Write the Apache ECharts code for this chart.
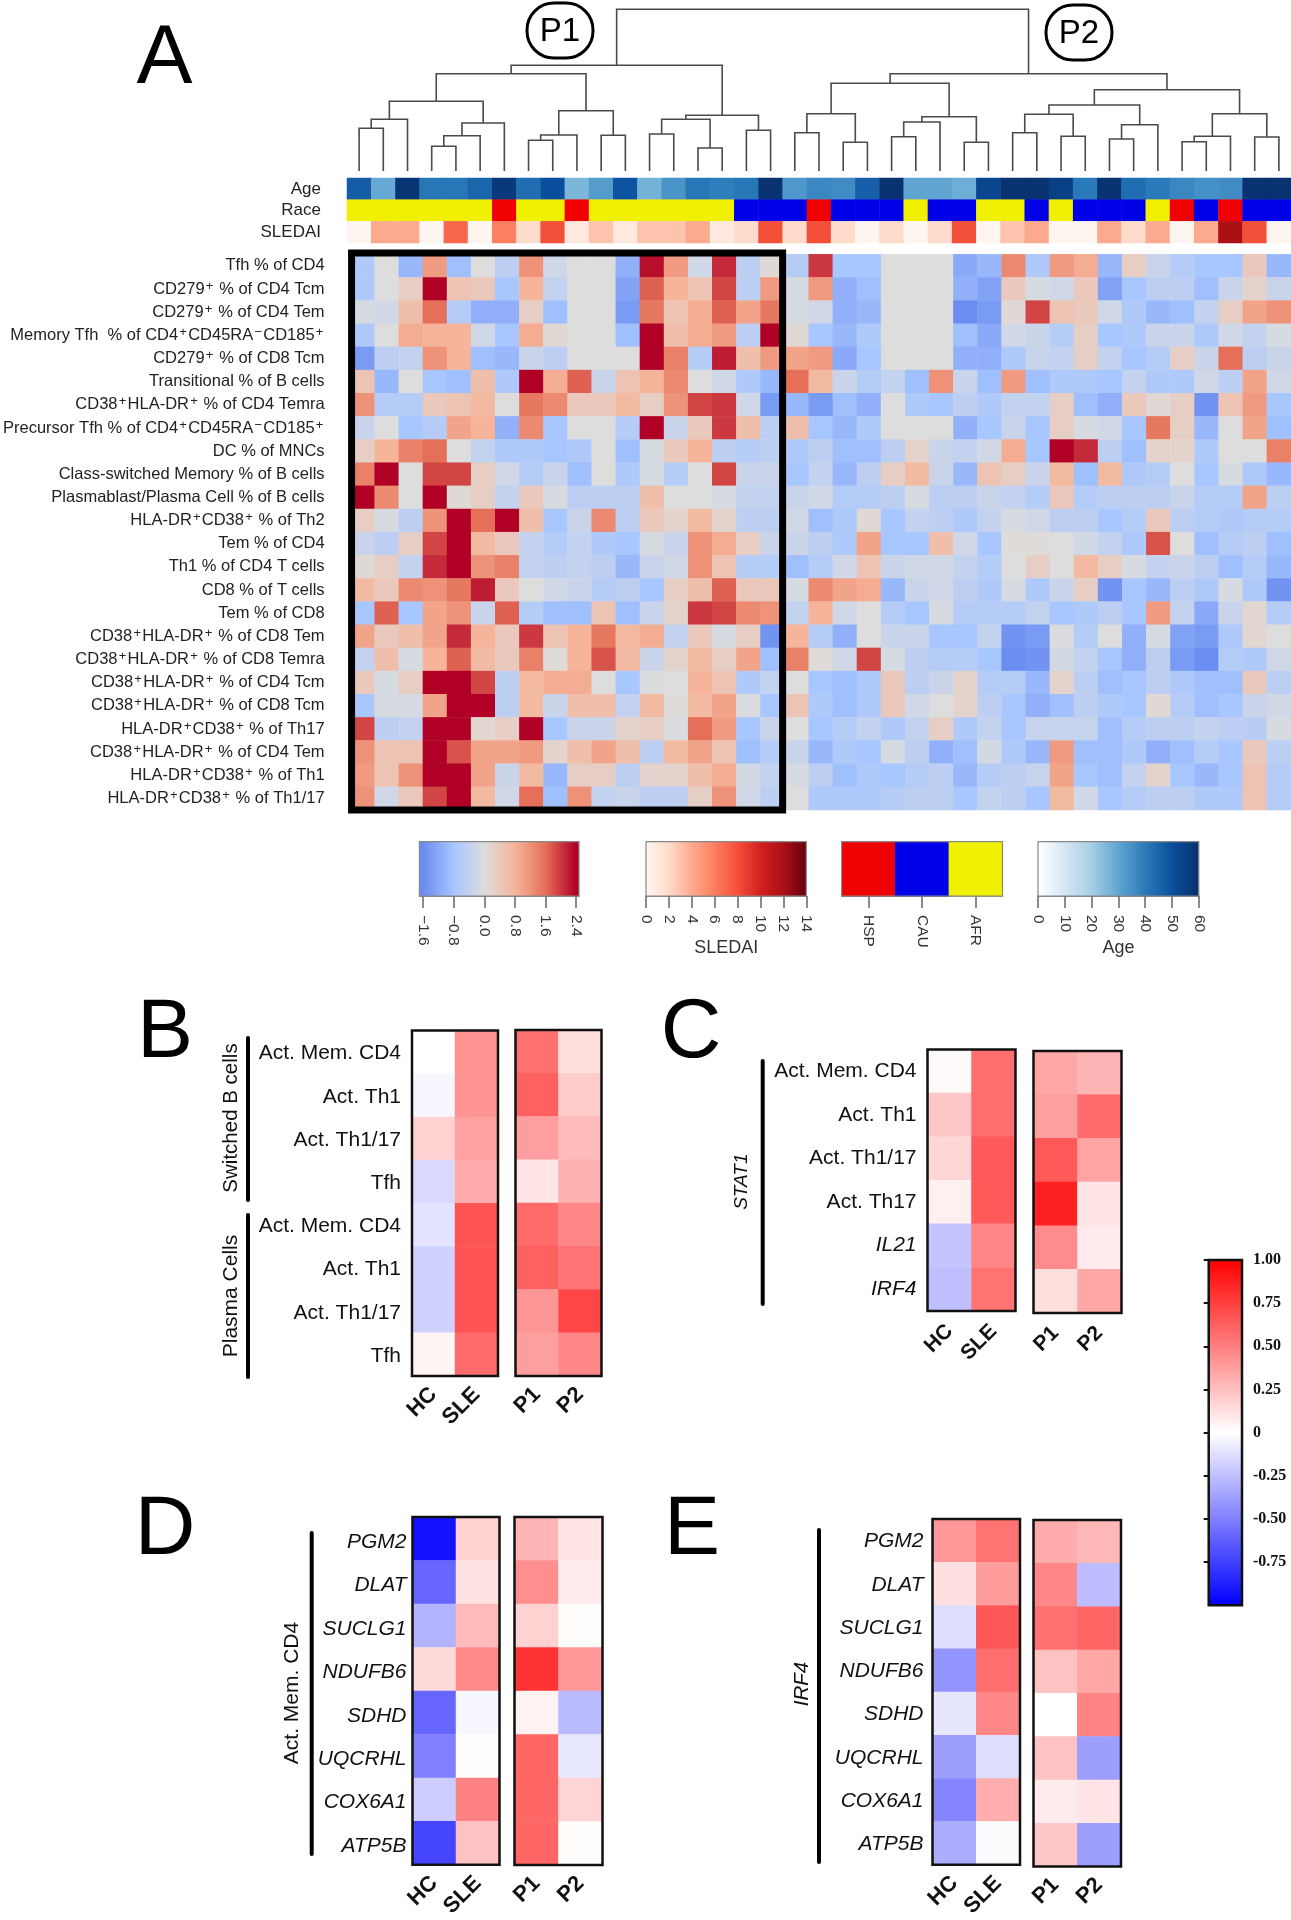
<!DOCTYPE html>
<html><head><meta charset="utf-8">
<style>html,body{margin:0;padding:0;background:#fff}#c{width:1291px;height:1920px}</style>
<script src="https://cdn.jsdelivr.net/npm/echarts@6/dist/echarts.min.js"></script>
</head><body><div id="c"></div>
<script>
// ---------- Panel A data ----------
const cellLabels = ['Tfh % of CD4','CD279+ % of CD4 Tcm','CD279+ % of CD4 Tem','Memory Tfh  % of CD4+CD45RA−CD185+','CD279+ % of CD8 Tcm','Transitional % of B cells','CD38+HLA-DR+ % of CD4 Temra','Precursor Tfh % of CD4+CD45RA−CD185+','DC % of MNCs','Class-switched Memory % of B cells','Plasmablast/Plasma Cell % of B cells','HLA-DR+CD38+ % of Th2','Tem % of CD4','Th1 % of CD4 T cells','CD8 % of T cells','Tem % of CD8','CD38+HLA-DR+ % of CD8 Tem','CD38+HLA-DR+ % of CD8 Temra','CD38+HLA-DR+ % of CD4 Tcm','CD38+HLA-DR+ % of CD8 Tcm','HLA-DR+CD38+ % of Th17','CD38+HLA-DR+ % of CD4 Tem','HLA-DR+CD38+ % of Th1','HLA-DR+CD38+ % of Th1/17'];
const annotationLabels = ['Age','Race','SLEDAI'];
const ages = [47,29,58,41,41,45,57,43,50,26,32,49,27,34,41,39,41,59,33,37,36,46,59,30,30,28,53,59,59,55,40,59,43,40,37,35,36,59,59];
const races = ['AFR','AFR','AFR','AFR','AFR','AFR','HSP','AFR','AFR','HSP','AFR','AFR','AFR','AFR','AFR','AFR','CAU','CAU','CAU','HSP','CAU','CAU','CAU','AFR','CAU','CAU','AFR','AFR','CAU','AFR','CAU','CAU','CAU','AFR','HSP','CAU','HSP','CAU','CAU'];
const sledai = [0,4,4,0,7,0,6,2,8,1,3,1,3,3,4,1,2,8,2,8,2,0,2,0,2,8,0,3,4,0,0,4,2,4,0,4,12,8,0];
const cellValues = [
[-.7,0,-1,1.1,-.9,0,-.5,1.2,-.2,0,0,-1.1,2.3,1.1,-.2,2.1,-.5,.1, -.6,2,-.8,-.8,0,0,0,-1.2,-1,1.3,-.7,1.1,.9,-1,.3,-.3,-.6,-.8,-.8,.4,-1],
[-.7,0,.3,2.4,.5,.4,-.8,.8,-.4,0,0,-1.3,1.7,.8,.5,1.9,-.5,1.1, -.1,1.1,-1.1,-.9,0,0,0,-1.1,-1.3,.4,-.1,-.2,.4,-1.3,-.8,-.5,-.5,-.9,-.3,.2,-.3],
[-.1,-.2,.6,1.6,-.6,-1.1,-1.1,.3,-.9,0,0,-1.4,1.5,.5,.9,1.7,1,1.5, -.1,-.2,-1.1,-1,0,0,0,-1.6,-1.4,.1,1.9,.5,.4,-.2,-.7,-1,-.9,-.4,.3,1,1.2],
[-.7,0,.9,.8,.8,-.2,-.8,.9,.1,0,0,-.9,2.4,.6,.9,1.1,-.5,2.4, .1,-.8,-1,-.7,0,0,0,-.9,-1.2,-.2,-.3,-.6,.3,-.8,-.7,-.3,-.3,-.7,-.2,-.4,-.1],
[-1.4,-.5,-.4,1.2,.8,-.9,-1,-.3,-.5,0,0,0,2.4,1.4,-.6,2.2,.6,1.1, 1,1.1,-1.2,-.8,0,0,0,-1.1,-1.1,-.7,-.3,-.4,.3,-.4,-.8,-.6,.3,-.3,1.6,-.5,-.3],
[.5,-1,0,-.8,-.9,.6,-.7,2.4,.9,1.7,-.3,.5,.8,1.3,0,-.2,-.7,-1, 1.6,.7,-.3,-.6,-.4,-.9,1.2,-.3,-.9,1.1,-.9,-.7,-.7,-.8,-.4,-.7,-.7,-.2,-.5,1,-.2],
[1.2,-.6,-.6,.4,.5,.7,0,1.5,1.3,.4,.4,.7,.3,1.2,1.9,2,-.2,-1.4, -1,-1.4,-.9,-1.1,0,-.7,-.8,-.5,-.7,-.4,-.4,.3,-.9,-1.1,.4,.1,.3,-1.5,.5,1.1,-.8],
[-.3,0,-.8,-.6,1,.8,-1.1,1.3,-.8,0,0,-.6,2.4,-.3,.4,2,.6,-.5, .6,-.8,-1,-.7,0,0,0,-1.1,-.8,-.3,-.8,.3,-.1,-.2,-.8,1.5,.3,-1,0,1,-.9],
[.3,.8,1.4,1.6,0,-.4,-.7,-.7,-.8,-.7,0,-.9,-.1,.4,.8,-.5,-.6,-.5, -.7,-.5,-.9,-.9,-.5,.2,-.3,-.4,-.2,.9,-.8,2.4,2.1,-.5,-.9,.2,.2,-.7,0,0,1.4],
[1.4,2.4,0,1.9,1.9,.3,-.2,-.6,-.3,-.9,0,-.7,-.1,-.6,0,1.9,-.3,-.3, -.8,-.4,-1,-.5,.3,.7,-.3,-1,.5,.3,-.3,.7,-.9,.7,-.7,-.6,0,-.8,-.1,-.7,-1],
[2.4,1.3,0,2.4,.1,.3,-.4,.4,-.1,-.5,-.5,-.5,.6,0,0,-.1,-.4,-.4, -.3,-.2,-.6,-.6,-.5,-.1,-.5,-.5,-.3,-.4,-.6,.4,-.6,-.5,-.5,-.5,-.3,-.6,-.6,1,-.5],
[.3,-.1,-.5,1.2,2.4,1.6,2.4,.6,-.8,-.3,1.3,-.5,.4,.2,.7,.2,-.5,-.5, -.2,-.9,-.7,.1,-.8,-.4,-.5,-.7,-.4,-.1,-.2,-.5,-.5,-.8,-.6,.4,-.5,-.6,-.7,-.6,-.6],
[-.3,-.5,.3,1.9,2.4,.7,.4,-.4,-.6,-.4,-.7,-.8,-.1,-.3,1.2,.9,.3,-.3, -.3,-.5,-.7,1,-.8,-.8,.6,-.2,-.8,.05,.05,0,-.2,-.4,-.7,1.8,0,-.9,-.6,-.5,-.9],
[.1,.3,-.4,2.1,2.4,1.2,1.4,-.4,-.5,-.4,-.5,-1,-.3,-.2,1.2,.5,-.6,-.6, -.9,-.6,-.2,.5,-.3,-.2,-.2,-.4,-.6,0,.3,0,.7,.3,-.1,-.4,-.3,-.5,-.9,-.6,-1],
[.7,.4,1.3,1.2,1.5,2.2,.4,0,-.2,-.3,-.6,-.5,-.8,.3,.6,1.7,.4,.4, -.1,1.3,1,.9,-1,-.3,-.2,-.5,-.7,-.1,-.7,-.3,.3,-1.5,-.8,-1,-.5,-.7,-.1,-.7,-1.5],
[-.8,1.7,-.8,1,1.2,-.3,1.7,-.6,-.9,-.9,.5,-.9,-.3,.2,2,1.9,1.3,1.2, -.4,.8,-.2,0,-.6,-.8,-.1,-.6,-.6,-.6,-.4,-.8,-.7,-.5,-.8,1.1,-.4,-1.2,-.3,.15,-.6],
[1,.4,.6,1,2.1,.8,.4,2,.5,.8,1.5,.7,.9,-.4,.4,-.1,.3,-1.5, .8,-.6,-1.1,0,-.3,-.3,-.8,-.8,-.4,-1.5,-1.4,-.05,-.6,0,-1.1,-.1,-1.3,-1.4,-.7,.15,0],
[-.4,.6,-.1,.8,1.7,.7,.4,1.4,.05,.8,1.8,.7,-.3,.2,.7,.3,1,-.9, 1.4,.05,-.2,1.9,-.1,-.5,-.6,-.6,-.8,-1.6,-1.5,-.15,-.4,-.8,-1.1,-.5,-1.4,-1.6,-.6,-.7,-.2],
[.4,-.1,.3,2.4,2.4,1.9,-.5,.7,.9,.9,0,-.8,-.05,0,.8,.5,-.7,-.4, 0,-.8,-.9,-.7,.4,-.5,-.3,.2,-.6,-.6,-1,.2,-.5,-.9,-.8,-.5,-.7,-.9,-.9,.4,-.5],
[-.8,-.1,-.1,1,2.4,2.4,-.5,.7,-.3,.6,.6,-.4,.7,.05,.7,1,-.05,-.8, .5,-.7,-.9,-.7,.4,-.2,0,.2,-.5,-.8,-1.1,-.9,-.5,-.7,-.8,.1,-.6,-.9,-.8,-.3,-.2],
[1.9,-.5,-.4,2.4,2.4,.15,.3,2.4,-.8,-.3,-.3,.2,.3,-.05,1.6,1.1,-.8,-.3, 0,-.8,-.6,-.4,-.7,-.4,.3,-.7,-.4,-.8,-.35,-.35,-.35,-.9,-.6,-.5,-.5,-.4,-.5,-.55,-.1],
[1.2,.5,.5,2.4,1.8,1,1,1.1,.2,.6,1,.6,-.5,.7,1,.5,-.9,-.6, -.3,-1,-.7,-.8,-.1,-.5,-1.1,-.9,-.15,-.7,-1,1.1,-.9,-.9,-.7,-1.1,-.9,-.6,-.8,.4,-.5],
[1.1,.5,1.2,2.4,2.4,1,-.3,.7,-1,.3,.3,-.5,.2,.2,.6,.9,-.15,-.4, -.1,-.5,-.9,-.7,-.8,-.6,-.5,-1,-.6,-.5,-.35,1,-.8,-.9,-.4,.2,-.8,-1,-.8,.5,-.6],
[1.2,-.2,.4,1.9,2.4,.7,-.2,1.6,-.9,1.2,-.4,-.3,-.5,-.5,.3,1.2,-.2,-.5, 0,-.7,-.7,-.7,-.6,-.5,-.5,-.8,-.4,-.5,-.8,.7,-.2,-.8,-.6,-.5,-.5,-.7,-.7,.5,-.6]
];
// Dendrogram: [left child, right child, merge height]; numbers are leaves (columns), 'mN' are earlier merges
const dendroMerges = [
[0,1,42.7],['m0',2,51.7],[3,4,24.7],['m2',5,35.3],['m3',6,48],['m1','m4',69.7],[7,8,30.7],['m6',9,36],[10,11,35.7],['m7','m8',60.3],['m5','m9',97.3],[12,13,37],[14,15,23],['m11','m12',51.7],[16,17,40.7],['m13','m14',55.7],['m10','m15',105.7],
[18,19,38.3],[20,21,28.7],['m17','m18',57.3],[22,23,34.3],['m20',24,49],[25,26,28.7],['m21','m22',54.3],['m19','m23',87.7],[27,28,38.3],[29,30,34.7],['m25','m26',56.7],[31,32,32],['m28',33,46.3],['m27','m29',66],[34,35,29.3],['m31',36,34.7],[37,38,34],['m32','m33',57.3],['m30','m34',81.3],['m24','m35',97.3],['m16','m36',161.7]
];
// ---------- Legend scales ----------
const heatTicks = [-1.6,-0.8,0,0.8,1.6,2.4];
const heatColors = ['#6b8cf0','#a8c6ff','#dddddd','#f6b59a','#e56f58','#b00026'];
const sledaiTicks = [0,2,4,6,8,10,12,14];
const sledaiColors = ['#fff5f0','#fedbcb','#fcaa8e','#fc7f5f','#f44f39','#d42020','#aa1016','#67000d'];
const raceNames = ['HSP','CAU','AFR'];
const raceColors = ['#f00000','#0000e8','#f0f000'];
const ageTicks = [0,10,20,30,40,50,60];
const ageColors = ['#ffffff','#d6e6f4','#a6cfe4','#60a5d2','#2a7ab9','#0a4f9e','#08306b'];
const divTicks = [1,0.75,0.5,0.25,0,-0.25,-0.5,-0.75];
const divColors = ['#0000ff','#ffffff','#ff0000'];
// ---------- Panels B-E ----------
const groupColsA = ['HC','SLE'], groupColsB = ['P1','P2'];
const bRows = ['Act. Mem. CD4','Act. Th1','Act. Th1/17','Tfh','Act. Mem. CD4 ','Act. Th1 ','Act. Th1/17 ','Tfh '];
const bHC  = [0,-.03,.18,-.15,-.11,-.18,-.18,.04];
const bSLE = [.43,.42,.37,.33,.67,.67,.67,.58];
const bP1  = [.56,.62,.38,.1,.58,.62,.41,.38];
const bP2  = [.13,.2,.27,.31,.47,.54,.73,.47];
const cRows = ['Act. Mem. CD4','Act. Th1','Act. Th1/17','Act. Th17','IL21','IRF4'];
const cItalic = ['IL21','IRF4'];
const cHC  = [.02,.22,.16,.06,-.23,-.25];
const cSLE = [.57,.57,.65,.65,.47,.55];
const cP1  = [.35,.38,.65,.87,.45,.13];
const cP2  = [.29,.58,.36,.1,.08,.35];
const geneRows = ['PGM2','DLAT','SUCLG1','NDUFB6','SDHD','UQCRHL','COX6A1','ATP5B'];
const dHC  = [-.93,-.6,-.3,.15,-.6,-.5,-.2,-.73];
const dSLE = [.18,.11,.27,.46,-.03,.01,.49,.24];
const dP1  = [.29,.44,.18,.8,.05,.6,.6,.6];
const dP2  = [.1,.08,.01,.4,-.27,-.09,.17,.01];
const eHC  = [.4,.12,-.13,-.42,-.1,-.38,-.48,-.32];
const eSLE = [.55,.39,.66,.57,.47,-.13,.32,-.01];
const eP1  = [.33,.47,.56,.24,0,.24,.08,.22];
const eP2  = [.28,-.26,.6,.35,.48,-.38,.1,-.38];

// ---------- Builders ----------
const FONT = '"Liberation Sans", Arial, sans-serif';
const grid=[], xAxis=[], yAxis=[], series=[], graphic=[];
const mainIdx=[], ageIdx=[], raceIdx=[], sledaiIdx=[], divIdx=[];
const noAxis = {axisLine:{show:false},axisTick:{show:false},axisLabel:{show:false},splitLine:{show:false}};
function addGrid(l,t,w,h,xa,ya){
  grid.push({left:l,top:t,width:w,height:h,containLabel:false});
  const i=grid.length-1;
  xAxis.push(Object.assign({gridIndex:i,splitLine:{show:false}},xa));
  yAxis.push(Object.assign({gridIndex:i,splitLine:{show:false}},ya));
  return i;
}
function addHeat(g,data,bucket){
  bucket.push(series.length);
  series.push({type:'heatmap',xAxisIndex:g,yAxisIndex:g,data,silent:true,progressive:0,itemStyle:{borderWidth:0},emphasis:{disabled:true},z:2});
}
function addFrame(g,color,width,inset){
  inset=inset||0;
  series.push({type:'custom',xAxisIndex:g,yAxisIndex:g,data:[[0,0]],silent:true,z:6,clip:false,
    renderItem:(p,api)=>{const c=p.coordSys;return {type:'rect',shape:{x:c.x+inset,y:c.y,width:c.width-2*inset,height:c.height},style:{fill:'none',stroke:color,lineWidth:width}};}});
}
function hexStops(values,colors){
  const a=values[0], b=values[values.length-1];
  return values.map((v,i)=>({offset:(v-a)/(b-a),color:colors[i]}));
}
function addGradient(g,stops,vertical){
  series.push({type:'custom',xAxisIndex:g,yAxisIndex:g,data:[[0,0]],silent:true,z:2,clip:false,
    renderItem:(p,api)=>{const c=p.coordSys;return {type:'rect',shape:{x:c.x,y:c.y,width:c.width,height:c.height},
      style:{fill:new echarts.graphic.LinearGradient(0,vertical?1:0,vertical?0:1,0,stops)}};}});
}
function supRich(text){ return text.replace(/[+−]/g,m=>'{s|'+m+'}'); }

// Dendrogram
(function(){
  const n=ages.length, centers={}, heights={}, segs=[];
  const pos=c=>typeof c==='number'?[c+0.5,0]:[centers[c],heights[c]];
  dendroMerges.forEach((m,i)=>{const a=pos(m[0]),b=pos(m[1]);segs.push([a[0],a[1],b[0],b[1],m[2]]);centers['m'+i]=(a[0]+b[0])/2;heights['m'+i]=m[2];});
  const g=addGrid(347,9.3,944,161.7,Object.assign({type:'value',min:0,max:n},noAxis),Object.assign({type:'value',min:0,max:161.7},noAxis));
  series.push({type:'custom',xAxisIndex:g,yAxisIndex:g,data:segs,silent:true,clip:false,
    renderItem:(p,api)=>{const x1=api.value(0),h1=api.value(1),x2=api.value(2),h2=api.value(3),t=api.value(4);
      return {type:'polyline',shape:{points:[api.coord([x1,h1]),api.coord([x1,t]),api.coord([x2,t]),api.coord([x2,h2])]},style:{fill:'none',stroke:'#4a4a4a',lineWidth:1.6}};}});
})();
const colCats=ages.map((_,i)=>'S'+(i+1));
// Annotation rows
(function(){
  const g=addGrid(347,178,944,65,Object.assign({type:'category',data:colCats},noAxis),
    {type:'category',inverse:true,data:annotationLabels,axisLine:{show:false},axisTick:{show:false},axisLabel:{fontFamily:FONT,fontSize:17,color:'#222',margin:26,interval:0}});
  addHeat(g,ages.map((v,i)=>[i,0,v]),ageIdx);
  addHeat(g,races.map((r,i)=>[i,1,raceNames.indexOf(r)]),raceIdx);
  addHeat(g,sledai.map((v,i)=>[i,2,v]),sledaiIdx);
})();
// Main heatmap
(function(){
  const g=addGrid(347,254.3,944,555.7,Object.assign({type:'category',data:colCats},noAxis),
    {type:'category',inverse:true,data:cellLabels,axisLine:{show:false},axisTick:{show:false},
     axisLabel:{fontFamily:FONT,fontSize:16.5,color:'#222',margin:26,interval:0,formatter:v=>supRich(v),
       rich:{s:{fontFamily:FONT,fontSize:13,color:'#222',verticalAlign:'top',padding:[0,1.2,6,1.2]}}}});
  const d=[]; cellValues.forEach((row,r)=>row.forEach((v,c)=>d.push([c,r,v])));
  addHeat(g,d,mainIdx);
  // P1 outline: columns 0-17 across all rows
  series.push({type:'custom',xAxisIndex:g,yAxisIndex:g,data:[[0,0]],silent:true,z:7,clip:false,
    renderItem:(p,api)=>{const s=api.size([1,1]),a=api.coord([0,0]),b=api.coord([17,23]);
      return {type:'rect',shape:{x:a[0]-s[0]/2+1,y:a[1]-s[1]/2-1.3,width:b[0]-a[0]+s[0]-3,height:b[1]-a[1]+s[1]+1.3},style:{fill:'none',stroke:'#000',lineWidth:7}};}});
})();
// Legends
function legendAxis(fmt,ticks){
  return {type:'value',axisLine:{show:true,onZero:false,lineStyle:{color:'#666',width:1.5}},
    axisTick:{show:true,length:12,customValues:ticks,lineStyle:{color:'#666',width:1.5}},
    axisLabel:{show:true,rotate:-90,fontFamily:FONT,fontSize:15.5,color:'#333',margin:19,customValues:ticks,formatter:fmt,hideOverlap:false}};
}
(function(){
  const ya=Object.assign({type:'value',min:0,max:1},noAxis);
  // expression
  let g=addGrid(419.4,841.7,159.6,54.3,Object.assign(legendAxis(v=>(+v).toFixed(1).replace('-','−'),heatTicks),{min:-1.7,max:2.48}),ya);
  const s=hexStops(heatTicks,heatColors).map(o=>({offset:(heatTicks[0]+o.offset*4+1.7)/4.18,color:o.color}));
  addGradient(g,s,false); addFrame(g,'#888',1.2);
  // SLEDAI
  g=addGrid(646,841.7,160.3,54.3,Object.assign(legendAxis(v=>String(v),sledaiTicks),{min:0,max:14,name:'SLEDAI',nameLocation:'middle',nameGap:43,nameTextStyle:{fontFamily:FONT,fontSize:18,color:'#333'}}),ya);
  addGradient(g,hexStops(sledaiTicks,sledaiColors),false); addFrame(g,'#888',1.2);
  // Race
  const la=legendAxis(v=>v,null); delete la.axisTick.customValues; delete la.axisLabel.customValues; la.type='category'; la.data=raceNames; la.axisTick.alignWithLabel=true; la.axisLabel.interval=0;
  g=addGrid(841.6,841.7,160.9,54.3,la,{type:'category',data:[''],axisLine:{show:false},axisTick:{show:false},axisLabel:{show:false}});
  addHeat(g,raceNames.map((_,i)=>[i,0,i]),raceIdx); addFrame(g,'#888',1.2);
  // Age
  g=addGrid(1038,841.7,160.8,54.3,Object.assign(legendAxis(v=>String(v),ageTicks),{min:0,max:60,name:'Age',nameLocation:'middle',nameGap:43,nameTextStyle:{fontFamily:FONT,fontSize:18,color:'#333'}}),ya);
  addGradient(g,hexStops(ageTicks,ageColors),false); addFrame(g,'#888',1.2);
  // Diverging scale
  const xa=Object.assign({type:'value',min:0,max:1},noAxis);
  const tick={show:true,inside:true,length:5,customValues:divTicks,lineStyle:{color:'#111',width:2}};
  g=addGrid(1208.7,1260,33.3,345.3,xa,{type:'value',min:-1,max:1,position:'right',axisLine:{show:false},axisTick:tick,
    axisLabel:{show:true,fontFamily:'"Liberation Serif", serif',fontWeight:'bold',fontSize:16,color:'#111',margin:11,padding:[0,0,3,0],customValues:divTicks,formatter:v=>+v===0?'0':(+v).toFixed(2),hideOverlap:false}});
  addGradient(g,hexStops([-1,0,1],divColors),true); addFrame(g,'#111',2.5);
  addGrid(1208.7,1260,33.3,345.3,Object.assign({type:'value',min:0,max:1},noAxis),{type:'value',min:-1,max:1,position:'left',axisLine:{show:false},axisTick:tick,axisLabel:{show:false}});
})();
// Small heatmap pair
function pair(cfg){
  const rows=cfg.rows, mk=(a,b)=>{const d=[];rows.forEach((_,r)=>{d.push([0,r,a[r]]);d.push([1,r,b[r]]);});return d;};
  const xa=cols=>({type:'category',data:cols,axisLine:{show:false},axisTick:{show:false},
    axisLabel:{interval:0,rotate:45,fontFamily:FONT,fontWeight:'bold',fontSize:cfg.xFont||22,color:'#111',margin:cfg.xMargin||15}});
  const labelOpts={interval:0,fontFamily:FONT,fontSize:21,color:'#111',margin:cfg.yMargin,fontStyle:cfg.italic?'italic':'normal',padding:[cfg.yPad||0,0,0,0],
     formatter:v=>{v=v.trim();return (cfg.italicList&&cfg.italicList.indexOf(v)>=0)?'{i|'+v+'}':v;},
     rich:{i:{fontFamily:FONT,fontSize:21,color:'#111',fontStyle:'italic'}}};
  let g=addGrid(cfg.a[0],cfg.a[1],cfg.a[2],cfg.a[3],xa(groupColsA),{type:'category',inverse:true,data:rows,axisLine:{show:false},axisTick:{show:false},axisLabel:labelOpts});
  addHeat(g,mk(cfg.v[0],cfg.v[1]),divIdx); addFrame(g,'#111',2.5);
  g=addGrid(cfg.b[0],cfg.b[1],cfg.b[2],cfg.b[3],xa(groupColsB),Object.assign({type:'category',inverse:true,data:rows},noAxis));
  addHeat(g,mk(cfg.v[2],cfg.v[3]),divIdx); addFrame(g,'#111',2.5);
}
pair({rows:bRows,a:[412,1030.5,86,345.5],b:[515.5,1030,86,346],v:[bHC,bSLE,bP1,bP2],yMargin:11,yPad:3});
pair({rows:cRows,a:[927.5,1049.5,88,261.5],b:[1033.5,1051,88,262],v:[cHC,cSLE,cP1,cP2],yMargin:11,xFont:21,xMargin:17,italicList:cItalic});
pair({rows:geneRows,a:[412.5,1517,87,348],b:[514.5,1517,88,348],v:[dHC,dSLE,dP1,dP2],yMargin:6,italic:true,yPad:6});
pair({rows:geneRows,a:[932.5,1519,87.5,346.5],b:[1033.5,1520,87.5,346.5],v:[eHC,eSLE,eP1,eP2],yMargin:9,italic:true,yPad:2});

// ---------- Annotations ----------
function letter(t,x,y){graphic.push({type:'text',x,y,silent:true,style:{text:t,textAlign:'center',textVerticalAlign:'middle',fontFamily:FONT,fontSize:84,fill:'#000'}});}
letter('A',164.5,60);letter('B',165,1034);letter('C',691,1034);letter('D',165,1531);letter('E',692,1531);
function bar(x,y1,y2){graphic.push({type:'line',silent:true,shape:{x1:x,y1,x2:x,y2},style:{stroke:'#000',lineWidth:4,lineCap:'round'}});}
function vtext(t,x,y,it,fs){graphic.push({type:'text',x,y,rotation:Math.PI/2,silent:true,style:{text:t,textAlign:'center',textVerticalAlign:'middle',fontFamily:FONT,fontSize:fs||21,fontStyle:it?'italic':'normal',fill:'#111'}});}
bar(248,1038,1200);bar(248,1215,1377);vtext('Switched B cells',231,1118,false,20.5);vtext('Plasma Cells',231,1296);
bar(762.7,1061,1304);vtext('STAT1',741.7,1181.7,true,19);
bar(311.7,1533,1854);vtext('Act. Mem. CD4',292,1693);
bar(819,1530,1862);vtext('IRF4',802,1684,true,20.5);
function pill(t,x,y,w,h){
  graphic.push({type:'rect',silent:true,shape:{x,y,width:w,height:h,r:27},style:{fill:'#fff',stroke:'#000',lineWidth:3}});
  graphic.push({type:'text',silent:true,x:x+w/2,y:y+h/2+1,style:{text:t,textAlign:'center',textVerticalAlign:'middle',fontFamily:FONT,fontSize:33,fill:'#000'}});
}
pill('P1',527,3,66,55);pill('P2',1046,5,66,55);

const visualMap=[
 {show:false,type:'continuous',min:heatTicks[0],max:heatTicks[5],dimension:2,seriesIndex:mainIdx,inRange:{color:heatColors}},
 {show:false,type:'continuous',min:0,max:60,dimension:2,seriesIndex:ageIdx,inRange:{color:ageColors}},
 {show:false,type:'continuous',min:0,max:14,dimension:2,seriesIndex:sledaiIdx,inRange:{color:sledaiColors}},
 {show:false,type:'piecewise',dimension:2,seriesIndex:raceIdx,pieces:raceNames.map((_,i)=>({value:i,color:raceColors[i]}))},
 {show:false,type:'continuous',min:-1,max:1,dimension:2,seriesIndex:divIdx,inRange:{color:divColors}}
];
const chart=echarts.init(document.getElementById('c'),null,{width:1291,height:1920,renderer:'canvas'});
chart.setOption({animation:false,backgroundColor:'#fff',textStyle:{fontFamily:FONT},grid,xAxis,yAxis,series,visualMap,graphic:{elements:graphic.map(e=>Object.assign({z:20},e))}});
</script></body></html>
